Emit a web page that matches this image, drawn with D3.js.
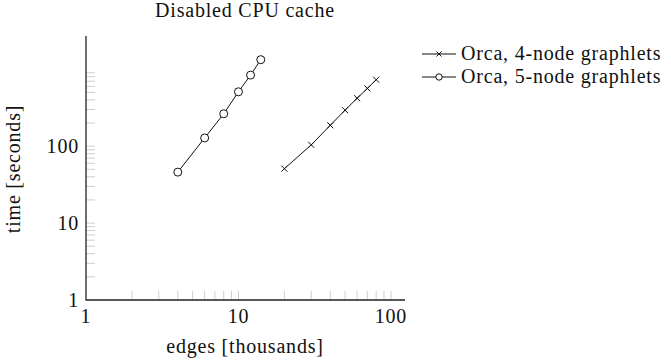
<!DOCTYPE html>
<html>
  <head>
    <meta charset="utf-8">
    <title>Disabled CPU cache</title>
    <script src="https://cdn.jsdelivr.net/npm/d3@7"></script>
    <style>
      body { margin: 0; background: #fff; }
      svg text { font-family: "Liberation Serif", serif; font-size: 20px; letter-spacing: 0.8px; fill: #111; }
    </style>
  </head>

  <body>
    <svg id="chart" width="671" height="362"></svg>

    <script>
      // data (edges in thousands, time in seconds)
      edges4 = [20, 30, 40, 50, 60, 70, 80];
      time4 = [51, 104, 187, 294, 421, 564, 732];
      edges5 = [4, 6, 8, 10, 12, 14];
      time5 = [46, 128, 264, 510, 840, 1334];
      seriesNames = ["Orca, 4-node graphlets", "Orca, 5-node graphlets"];
      xTicks = [1, 10, 100];
      yTicks = [1, 10, 100];
      xMinor = [2, 3, 4, 5, 6, 7, 8, 9, 20, 30, 40, 50, 60, 70, 80, 90];
      yMinor = [2, 3, 4, 5, 6, 7, 8, 9, 20, 30, 40, 50, 60, 70, 80, 90,
                200, 300, 400, 500, 600, 700, 800, 900];

      chart = d3.select("#chart");

      // scales
      scaleX = d3.scaleLog()
        .domain([1, 123.6])
        .range([86, 405]);
      scaleY = d3.scaleLog()
        .domain([1, 2710])
        .range([300, 36]);

      // ticks
      tickGroup = chart.append("g");
      tickGroup.selectAll(".xtick")
          .data(xMinor.concat(xTicks.slice(1)))
        .enter().append("line")
          .attr("x1", d => scaleX(d))
          .attr("x2", d => scaleX(d))
          .attr("y1", 300)
          .attr("y2", 291)
          .attr("stroke", "#cfcfcf");
      tickGroup.selectAll(".ytick")
          .data(yMinor.concat(yTicks.slice(1)))
        .enter().append("line")
          .attr("x1", 86)
          .attr("x2", 95)
          .attr("y1", d => scaleY(d))
          .attr("y2", d => scaleY(d))
          .attr("stroke", "#cfcfcf");

      // axis lines
      chart.append("path")
        .attr("d", "M86," + scaleY.range()[1] + "V300H405")
        .attr("fill", "none")
        .attr("stroke", "#222")
        .attr("stroke-width", 1.3);

      // tick labels
      chart.selectAll(".xlabel")
          .data(xTicks)
        .enter().append("text")
          .attr("x", d => scaleX(d))
          .attr("y", 323)
          .attr("text-anchor", "middle")
          .text(d => d);
      chart.selectAll(".ylabel")
          .data(yTicks)
        .enter().append("text")
          .attr("x", 79)
          .attr("y", d => scaleY(d) + 7)
          .attr("text-anchor", "end")
          .text(d => d);

      // titles
      chart.append("text")
        .attr("x", 245)
        .attr("y", 17)
        .attr("text-anchor", "middle")
        .text("Disabled CPU cache");
      chart.append("text")
        .attr("x", 245)
        .attr("y", 353)
        .attr("text-anchor", "middle")
        .text("edges [thousands]");
      chart.append("text")
        .attr("transform", "translate(20,169) rotate(-90)")
        .attr("text-anchor", "middle")
        .text("time [seconds]");

      // series
      line = d3.line()
        .x(d => scaleX(d[0]))
        .y(d => scaleY(d[1]));

      data4 = edges4.map((d, i) => [d, time4[i]]);
      data5 = edges5.map((d, i) => [d, time5[i]]);

      function crossPath(x, y, s) {
        return "M" + (x - s) + "," + (y - s) + "L" + (x + s) + "," + (y + s) +
          "M" + (x - s) + "," + (y + s) + "L" + (x + s) + "," + (y - s);
      }

      plot = chart.append("g")
        .attr("fill", "none")
        .attr("stroke", "#111")
        .attr("stroke-width", 1);

      plot.append("path").attr("d", line(data4));
      plot.selectAll(".cross")
          .data(data4)
        .enter().append("path")
          .attr("d", d => crossPath(scaleX(d[0]), scaleY(d[1]), 3));

      plot.append("path").attr("d", line(data5));
      plot.selectAll(".circ")
          .data(data5)
        .enter().append("circle")
          .attr("cx", d => scaleX(d[0]))
          .attr("cy", d => scaleY(d[1]))
          .attr("r", 4)
          .attr("fill", "#fff");

      // legend
      legendY = [54, 77];
      legend = chart.append("g");
      legend.selectAll(".legLine")
          .data(seriesNames)
        .enter().append("line")
          .attr("x1", 422)
          .attr("x2", 456)
          .attr("y1", (d, i) => legendY[i])
          .attr("y2", (d, i) => legendY[i])
          .attr("stroke", "#111");
      legend.append("path")
        .attr("d", crossPath(439, legendY[0], 2.5))
        .attr("stroke", "#111");
      legend.append("circle")
        .attr("cx", 439)
        .attr("cy", legendY[1])
        .attr("r", 3.2)
        .attr("fill", "#fff")
        .attr("stroke", "#111");
      legend.selectAll(".legText")
          .data(seriesNames)
        .enter().append("text")
          .attr("x", 461)
          .attr("y", (d, i) => legendY[i] + 6)
          .text(d => d);
    </script>
  </body>
</html>
